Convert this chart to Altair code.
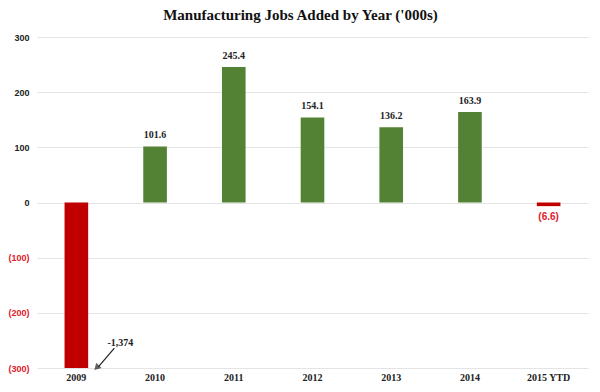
import altair as alt
import pandas as pd

categories = ["2009", "2010", "2011", "2012", "2013", "2014", "2015 YTD"]
values = [-1374, 101.6, 245.4, 154.1, 136.2, 163.9, -6.6]
labels = ["", "101.6", "245.4", "154.1", "136.2", "163.9", "(6.6)"]

note_text = "-1,374"
note_cat = "2009"
note_y = -255
arrow_start_y = -264
arrow_end_y = -298

df = pd.DataFrame({"cat": categories, "value": values, "label": labels})

GREEN = "#548235"
RED = "#c00000"

xenc = alt.X("cat:N", sort=categories, title=None,
             scale=alt.Scale(paddingInner=0.7, paddingOuter=0.35),
             axis=alt.Axis(labelAngle=0, ticks=False, domain=False, grid=False,
                           labelFont="Liberation Serif", labelFontWeight="bold",
                           labelFontSize=10, labelColor="#222", labelPadding=4))
yscale = alt.Scale(domain=[-300, 300], clamp=True, nice=False)

base = alt.Chart(df)

bars = base.mark_bar().encode(
    x=xenc,
    y=alt.Y("value:Q", scale=yscale, title=None,
            axis=alt.Axis(values=[-300, -200, -100, 0, 100, 200, 300],
                          labelExpr="datum.value < 0 ? '(' + format(-datum.value, 'd') + ')' : format(datum.value, 'd')",
                          labelColor={"condition": {"test": "datum.value < 0", "value": "#e0202a"}, "value": "#222"},
                          labelFont="Liberation Sans", labelFontWeight="bold", labelFontSize=9,
                          ticks=False, domain=False, gridColor="#e4e4e4", labelPadding=8)),
    y2=alt.datum(0),
    color=alt.condition("datum.value >= 0", alt.value(GREEN), alt.value(RED)),
)

pos_text = base.transform_filter("datum.value >= 0").mark_text(
    baseline="bottom", dy=-6, font="Liberation Serif", fontWeight="bold", fontSize=10, color="#222"
).encode(x=alt.X("cat:N", sort=categories), y=alt.Y("value:Q", scale=yscale), text="label:N")

neg_text = base.transform_filter("datum.value < 0 && datum.value > -300").mark_text(
    baseline="top", dy=6, font="Liberation Sans", fontWeight="bold", fontSize=10, color="#e0202a"
).encode(x=alt.X("cat:N", sort=categories), y=alt.Y("value:Q", scale=yscale), text="label:N")

note_df = pd.DataFrame({"cat": [note_cat], "y": [note_y], "t": [note_text],
                        "ys": [arrow_start_y], "ye": [arrow_end_y]})
note = alt.Chart(note_df).mark_text(
    font="Liberation Serif", fontWeight="bold", fontSize=10, color="#222", dx=44
).encode(x=alt.X("cat:N", sort=categories), y=alt.Y("y:Q", scale=yscale), text="t:N")

arrow = alt.Chart(note_df).mark_rule(color="#222", strokeWidth=1.2, xOffset=38, x2Offset=22).encode(
    x=alt.X("cat:N", sort=categories), x2="cat:N",
    y=alt.Y("ys:Q", scale=yscale), y2="ye:Q")

head = alt.Chart(note_df).mark_point(shape="triangle", filled=True, color="#222", size=55,
                                     angle=225, xOffset=21).encode(
    x=alt.X("cat:N", sort=categories), y=alt.Y("ye:Q", scale=yscale))

chart = alt.layer(bars, pos_text, neg_text, note, arrow, head).properties(
    width=551, height=331,
    title=alt.TitleParams("Manufacturing Jobs Added by Year ('000s)", font="Liberation Serif",
                          fontSize=15, fontWeight="bold", color="#111", dx=-12, offset=10),
    autosize=alt.AutoSizeParams(type="none"),
    padding={"left": 29, "top": 29, "right": 4, "bottom": 20},
).configure_view(stroke=None)

chart.save("out.html", embed_options={"renderer": "svg", "actions": False})
